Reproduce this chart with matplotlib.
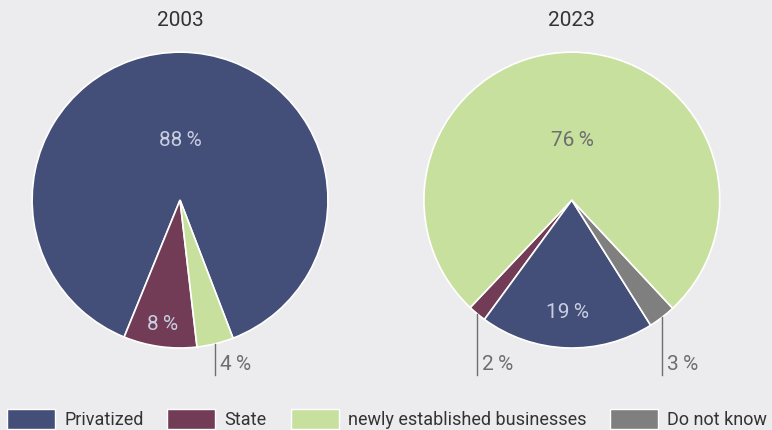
import numpy as np
import matplotlib.pyplot as plt
from matplotlib.patches import Patch

plt.rcParams['font.family'] = ['Roboto', 'DejaVu Sans']

categories = ["Privatized", "State", "newly established businesses", "Do not know"]
colors = ["#434f78", "#723c56", "#c8e09e", "#7f7f80"]
years = ["2003", "2023"]

# shares per year, same order as categories
vals_2003 = [88, 8, 4, 0]
vals_2023 = [19, 2, 76, 3]

bg = "#ececee"
light_txt = "#c9cde0"
grey_txt = "#6e6e6e"

fig = plt.figure(figsize=(7.72, 4.30), dpi=100)
fig.patch.set_facecolor(bg)


def draw_pie(ax, vals, order, start, inside, outside, title):
    v = [vals[i] for i in order]
    c = [colors[i] for i in order]
    wedges, _ = ax.pie(v, colors=c, startangle=start, counterclock=True,
                       wedgeprops=dict(edgecolor="white", linewidth=1.2))
    ax.set_xlim(-1, 1)
    ax.set_ylim(-1, 1)
    ax.set_aspect("equal")
    ax.set_title(title, fontsize=15, color="#333333", pad=19)
    for k, w in enumerate(wedges):
        idx = order[k]
        mid = np.deg2rad((w.theta1 + w.theta2) / 2)
        txt = f"{vals[idx]}\u2009%"
        if idx in inside:
            r, col = inside[idx]
            ax.text(r * np.cos(mid), r * np.sin(mid), txt, ha="center", va="center",
                    fontsize=15, color=col)
        elif idx in outside:
            x = np.cos(mid)
            ax.plot([x, x], [np.sin(mid), -1.18], color=grey_txt, lw=1, clip_on=False)
            ax.text(x + 0.03, -1.11, txt, ha="left", va="center", fontsize=15,
                    color=grey_txt, clip_on=False)


ax1 = fig.add_axes([0.0415, 0.1907, 0.3834, 0.688])
draw_pie(ax1, vals_2003, [0, 1, 2], -69,
         {0: (0.4, light_txt), 1: (0.85, light_txt)}, {2: None}, years[0])

ax2 = fig.add_axes([0.549, 0.1907, 0.3834, 0.688])
draw_pie(ax2, vals_2023, [1, 0, 3, 2], -133.4,
         {0: (0.76, light_txt), 2: (0.4, grey_txt)}, {1: None, 3: None}, years[1])

handles = [Patch(facecolor=c, edgecolor="white", linewidth=1) for c in colors]
fig.legend(handles, categories, loc="lower left", bbox_to_anchor=(-0.012, -0.035),
           ncol=4, frameon=False, handlelength=2.66, handleheight=1.3,
           handletextpad=0.5, columnspacing=1.33, labelcolor="#333333",
           prop=dict(size=13))

fig.savefig("out.png", dpi=100, facecolor=bg)
